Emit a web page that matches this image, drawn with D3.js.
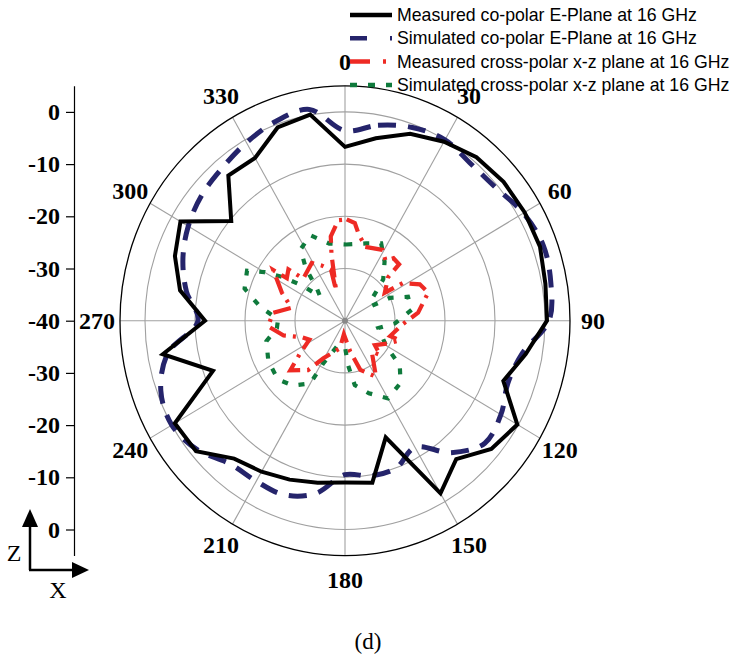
<!DOCTYPE html>
<html><head>
<script src="https://d3js.org/d3.v7.min.js"></script>
<style>
body { margin: 0; background: white; }
svg { display: block; }
.lbl { font-family: "Liberation Serif", "Times New Roman", serif; font-weight: bold; font-size: 24px; }
.leg { font-family: "Liberation Sans", Arial, sans-serif; font-size: 17.7px; }
</style>
</head><body>
<svg id="chart" width="732" height="660"></svg>
<script>
// polar grid ticks
var angleTicks = [0, 30, 60, 90, 120, 150, 180, 210, 240, 270, 300, 330];
var ringTicks = [-30, -20, -10, 0];
var axisLabels = ["0", "-10", "-20", "-30", "-40", "-30", "-20", "-10", "0"];

// co-polar traces, every 10 deg
var coAngles = [0, 10, 20, 30, 40, 50, 60, 70, 80, 90, 100, 110, 120, 130, 140, 150, 160, 170,
                180, 190, 200, 210, 220, 230, 240, 250, 260, 270, 280, 290, 300, 310, 320, 330, 340, 350];
var measCo = [-6.7, -4.5, -1.9, -0.4, 0.9, 1.4, 1.5, 1.5, 0.7, 0.4, -3.3, -6.3, -0.2, -1.8, -5.4, -1.8, -16.2, -8.5,
              -9, -8.5, -7.6, -6.6, -5.5, -1.1, -0.7, -11.9, -3, -12, -6.5, -3.8, -2, -10.3, -3.7, -4, -0.6, 0.1];
var simCo = [-3.6, -2, -0.6, 0, -0.8, -0.5, 1.2, 2.2, 1.8, 0.8, -4, -5.3, -4, -3.5, -7, -12, -10, -9.8,
             -10.5, -6.4, -4.5, -4.5, -4.2, -1.5, 0, -0.8, -4, -10.6, -7.8, -5.5, -3.8, -2.6, -1.8, -0.6, 0.6, 1.1];

// cross-polar traces
var measXAngles = [1, 6, 9, 16, 29, 35, 39, 45, 46, 56, 58, 65, 72, 84, 94, 108, 109, 117, 128, 133, 138, 150, 162, 170,
                   185, 191, 211, 218, 229, 235, 243, 250, 257, 266, 276, 283, 293, 304, 305, 311, 314, 329, 336, 344, 343, 348, 350, 356];
var measX = [-20.6, -21.2, -23, -25.3, -24.5, -25.9, -24.6, -24.7, -28, -30.4, -26.4, -23.5, -22.5, -25.3, -28.6, -30.5, -28.4, -30.4, -32.4, -30.4, -32, -27.6, -30.1, -34,
             -37.4, -34.6, -31.6, -28, -25.5, -29, -32, -30.8, -27.4, -24.6, -25.5, -29, -26.3, -22.7, -25.8, -25, -28.4, -27.1, -28.4, -29.9, -33.9, -27, -23.6, -20.7];
var simXAngles = [1, 16, 26, 35, 44, 53, 62, 64, 70, 81, 93, 102, 121, 128, 137, 150, 161, 171, 176, 180, 198, 208, 210,
                  220, 230, 243, 256, 264, 271, 279, 287, 296, 300, 304, 308, 313, 318, 322, 327, 337, 348];
var simX = [-25.4, -24.6, -23.5, -26.2, -29, -33.4, -34, -30, -26.6, -26.5, -30, -33.2, -30.3, -26.1, -23.7, -22.8, -25.3, -27.5, -31.5, -35, -34.8, -30.8, -26.1,
            -23.8, -22.5, -22.8, -23.8, -26.3, -26.6, -22.8, -19, -18.2, -21.4, -25.1, -29, -33.2, -31.5, -27.3, -23.7, -22.2, -24.9];

var legendLabels = ["Measured co-polar E-Plane at 16 GHz", "Simulated co-polar E-Plane at 16 GHz",
                    "Measured cross-polar x-z plane at 16 GHz", "Simulated cross-polar x-z plane at 16 GHz"];

var cx = 345, cy = 320.7, k = 1.044;
var r = d3.scaleLinear().domain([-40, 5]).range([0, 225]);
var rad = function(a) { return a * Math.PI / 180; };
function pX(a, rr) { return cx + rr * Math.sin(rad(a)); }
function pY(a, rr) { return cy - rr * Math.cos(rad(a)) * k; }

var svg = d3.select("#chart");

// grid
var grid = svg.append("g");
grid.selectAll("ellipse.ring").data(ringTicks).enter().append("ellipse")
    .attr("cx", cx).attr("cy", cy)
    .attr("rx", function(d) { return r(d); })
    .attr("ry", function(d) { return r(d) * k; })
    .attr("fill", "none").attr("stroke", "#a0a0a0").attr("stroke-width", 1.1);
grid.selectAll("line").data(angleTicks).enter().append("line")
    .attr("x1", cx).attr("y1", cy)
    .attr("x2", function(d) { return pX(d, r(5)); })
    .attr("y2", function(d) { return pY(d, r(5)); })
    .attr("stroke", "#a0a0a0").attr("stroke-width", 1.1);
grid.append("ellipse")
    .attr("cx", cx).attr("cy", cy).attr("rx", r(5)).attr("ry", r(5) * k)
    .attr("fill", "none").attr("stroke", "#000").attr("stroke-width", 1.3);
grid.append("circle").attr("cx", cx).attr("cy", cy).attr("r", 3).attr("fill", "#888");

// angle labels
svg.selectAll("text.ang").data(angleTicks).enter().append("text")
    .attr("class", "lbl")
    .attr("x", function(d) { return pX(d, r(5) + 23); })
    .attr("y", function(d) { return pY(d, r(5) + 23); })
    .attr("text-anchor", "middle").attr("dominant-baseline", "central")
    .text(function(d) { return d; });

// traces
function trace(angles, vals, curve) {
    var pts = angles.map(function(a, i) { return [a, vals[i]]; });
    return d3.line()
        .x(function(d) { return pX(d[0], r(d[1])); })
        .y(function(d) { return pY(d[0], r(d[1])); })
        .curve(curve)(pts);
}
svg.append("path").attr("d", trace(simXAngles, simX, d3.curveLinearClosed))
    .attr("fill", "none").attr("stroke", "#0f7a3c").attr("stroke-width", 4.2)
    .attr("stroke-dasharray", "6,11");
svg.append("path").attr("d", trace(measXAngles, measX, d3.curveLinearClosed))
    .attr("fill", "none").attr("stroke", "#ee2a24").attr("stroke-width", 4.2)
    .attr("stroke-dasharray", "18,7,3,7");
svg.append("path").attr("d", trace(coAngles, simCo, d3.curveCatmullRomClosed))
    .attr("fill", "none").attr("stroke", "#25246b").attr("stroke-width", 5)
    .attr("stroke-dasharray", "18,12");
svg.append("path").attr("d", trace(coAngles, measCo, d3.curveLinearClosed))
    .attr("fill", "none").attr("stroke", "#000").attr("stroke-width", 4)
    .attr("stroke-linejoin", "miter");

// left radial axis
var yAx = d3.scaleLinear().domain([-45, 45]).range([cy + r(5) * k, cy - r(5) * k]);
var offsets = axisLabels.map(function(d, i) { return i < 4 ? 40 + (+d) : -(40 + (+d)); });
offsets[4] = 0;
var ax = svg.append("g").attr("transform", "translate(74,0)")
    .call(d3.axisLeft(yAx).tickValues(offsets).tickSize(8).tickSizeOuter(0).tickPadding(6)
        .tickFormat(function(d, i) { return axisLabels[i]; }));
ax.selectAll("path,line").attr("stroke", "#000").attr("stroke-width", 1.2);
ax.selectAll("text").attr("class", "lbl").attr("fill", "#000").attr("font-family", null).attr("font-size", null);

// legend
var leg = svg.append("g");
var legStyles = [
    { c: "#000", w: 4.5, d: null },
    { c: "#25246b", w: 4.5, d: "17,23" },
    { c: "#ee2a24", w: 4.5, d: "20,13,3,10" },
    { c: "#0f7a3c", w: 4.5, d: "7,11" }
];
legendLabels.forEach(function(t, i) {
    var y = 15 + i * 23.3;
    leg.append("line").attr("x1", 350).attr("x2", 392).attr("y1", y).attr("y2", y)
        .attr("stroke", legStyles[i].c).attr("stroke-width", legStyles[i].w)
        .attr("stroke-dasharray", legStyles[i].d);
    leg.append("text").attr("class", "leg").attr("x", 397).attr("y", y)
        .attr("dominant-baseline", "central").text(t);
});

// Z / X coordinate icon
var ico = svg.append("g").attr("stroke", "#000").attr("stroke-width", 2.5).attr("fill", "#000");
ico.append("path").attr("d", "M30,570V524").attr("fill", "none");
ico.append("path").attr("d", "M22,527L30,509L38,527Z").attr("stroke", "none");
ico.append("path").attr("d", "M29,570H74").attr("fill", "none");
ico.append("path").attr("d", "M72,562L89,570L72,578Z").attr("stroke", "none");
svg.append("text").attr("x", 14).attr("y", 553).attr("text-anchor", "middle").attr("dominant-baseline", "central")
    .style("font-family", "Liberation Serif, serif").style("font-size", "24px").text("Z");
svg.append("text").attr("x", 58).attr("y", 590).attr("text-anchor", "middle").attr("dominant-baseline", "central")
    .style("font-family", "Liberation Serif, serif").style("font-size", "24px").text("X");

svg.append("text").attr("x", 368).attr("y", 641).attr("text-anchor", "middle").attr("dominant-baseline", "central")
    .style("font-family", "Liberation Serif, serif").style("font-size", "23px").text("(d)");
</script>
</body></html>
